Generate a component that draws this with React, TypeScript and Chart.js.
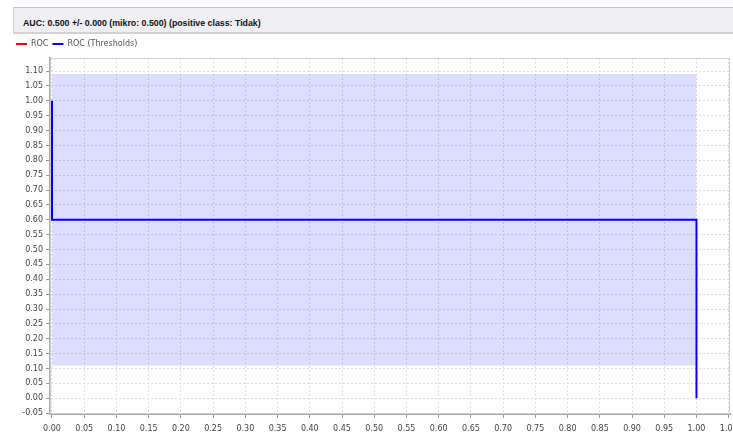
import React, { useEffect, useRef } from "react";
import { Chart, registerables } from "chart.js";

Chart.register(...registerables);

const titleText = "AUC: 0.500 +/- 0.000 (mikro: 0.500) (positive class: Tidak)";
const seriesNames = ["ROC", "ROC (Thresholds)"];

const rocX = [0.0, 0.0, 1.0, 1.0];
const rocY = [1.0, 0.6, 0.6, 0.0];
const thresholdX = [0.0, 0.0, 1.0, 1.0];
const thresholdY = [1.0, 0.6, 0.6, 0.0];

const bandX = [0.0, 1.0];
const bandUpper = [1.09, 1.09];
const bandLower = 0.11;

const xTickValues = [0, 0.05, 0.1, 0.15, 0.2, 0.25, 0.3, 0.35, 0.4, 0.45, 0.5, 0.55, 0.6, 0.65, 0.7, 0.75, 0.8, 0.85, 0.9, 0.95, 1.0, 1.05];
const yTickValues = [-0.05, 0, 0.05, 0.1, 0.15, 0.2, 0.25, 0.3, 0.35, 0.4, 0.45, 0.5, 0.55, 0.6, 0.65, 0.7, 0.75, 0.8, 0.85, 0.9, 0.95, 1.0, 1.05, 1.1];

const toPoints = (xs: number[], ys: number[]) => xs.map((x, i) => ({ x, y: ys[i] }));

const outlinePlugin = {
  id: "plotOutline",
  beforeDatasetsDraw(chart: any) {
    const { ctx, chartArea } = chart;
    ctx.save();
    ctx.strokeStyle = "#cfcfcf";
    ctx.lineWidth = 1;
    ctx.strokeRect(chartArea.left + 0.5, chartArea.top + 0.5, chartArea.right - chartArea.left - 1, chartArea.bottom - chartArea.top - 1);
    ctx.restore();
  },
};

export default function App() {
  const canvasRef = useRef<HTMLCanvasElement>(null);

  useEffect(() => {
    if (!canvasRef.current) return;
    const tickFont = { family: "'DejaVu Sans', sans-serif", size: 8 };
    const gridOpts = {
      color: "#dddddd",
      lineWidth: 1,
      drawTicks: true,
      tickLength: 4,
      tickColor: "#999999",
      tickBorderDash: [],
      tickWidth: 1,
    };
    const chart = new Chart(canvasRef.current, {
      type: "line",
      data: {
        datasets: [
          {
            label: seriesNames[1],
            data: toPoints(thresholdX, thresholdY),
            borderColor: "#0000ff",
            backgroundColor: "#0000ff",
            borderWidth: 2,
            pointRadius: 0,
            tension: 0,
            fill: false,
          },
          {
            label: seriesNames[0],
            data: toPoints(rocX, rocY),
            borderColor: "#ff0000",
            backgroundColor: "#ff0000",
            borderWidth: 2,
            pointRadius: 0,
            tension: 0,
            showLine: false,
            fill: false,
          },
          {
            label: "band",
            data: toPoints(bandX, bandUpper),
            borderColor: "rgba(0,0,0,0)",
            backgroundColor: "rgba(0,0,255,0.135)",
            borderWidth: 0,
            pointRadius: 0,
            tension: 0,
            fill: { value: bandLower },
          },
        ],
      },
      options: {
        animation: false,
        responsive: false,
        maintainAspectRatio: false,
        layout: { padding: { left: 12, top: 36, right: 3, bottom: 0 } },
        plugins: {
          legend: {
            position: "top",
            align: "start",
            reverse: true,
            labels: {
              filter: (item: any) => item.text !== "band",
              usePointStyle: true,
              pointStyle: "line",
              pointStyleWidth: 11,
              boxHeight: 8,
              padding: 4,
              color: "#555555",
              font: { family: "'DejaVu Sans', sans-serif", size: 8 },
            },
          },
          tooltip: { enabled: false },
        },
        scales: {
          x: {
            type: "linear",
            min: -0.0031,
            max: 1.052,
            afterFit: (s: any) => {
              s.height = 21;
              s.paddingLeft = 0;
              s.paddingRight = 0;
            },
            afterBuildTicks: (s: any) => {
              s.ticks = xTickValues.map((v) => ({ value: v }));
            },
            ticks: {
              autoSkip: false,
              maxRotation: 0,
              minRotation: 0,
              padding: 6,
              color: "#444444",
              font: tickFont,
              callback: (v: any) => Number(v).toFixed(2),
            },
            grid: gridOpts,
            border: { display: true, color: "#aaaaaa", width: 2, dash: [2, 2] },
          },
          y: {
            type: "linear",
            min: -0.053,
            max: 1.144,
            afterFit: (s: any) => {
              s.width = 38;
              s.paddingTop = 0;
              s.paddingBottom = 0;
            },
            afterBuildTicks: (s: any) => {
              s.ticks = yTickValues.map((v) => ({ value: v }));
            },
            ticks: {
              autoSkip: false,
              padding: 3,
              color: "#444444",
              font: tickFont,
              callback: (v: any) => Number(v).toFixed(2),
            },
            grid: gridOpts,
            border: { display: true, color: "#aaaaaa", width: 2, dash: [2, 2] },
          },
        },
      },
      plugins: [outlinePlugin],
    } as any);
    return () => chart.destroy();
  }, []);

  return (
    <div style={{ position: "fixed", left: 0, top: 0, width: 733, height: 435, background: "#ffffff", overflow: "hidden" }}>
      <canvas ref={canvasRef} width={733} height={435} style={{ position: "absolute", left: 0, top: 0, width: 733, height: 435 }} />
      <div
        style={{
          position: "absolute",
          left: 13,
          top: 7,
          width: 720,
          height: 27,
          boxSizing: "border-box",
          background: "#efeff4",
          borderTop: "1px solid #c4c4c4",
          borderLeft: "1px solid #d0d0d0",
          borderBottom: "2px solid #d2d2d2",
          paddingLeft: 9,
          paddingTop: 10,
          lineHeight: "10px",
          fontFamily: "'Liberation Sans', Arial, sans-serif",
          fontWeight: "bold",
          fontSize: 8.8,
          color: "#111111",
          whiteSpace: "nowrap",
        }}
      >
        {titleText}
      </div>
    </div>
  );
}
